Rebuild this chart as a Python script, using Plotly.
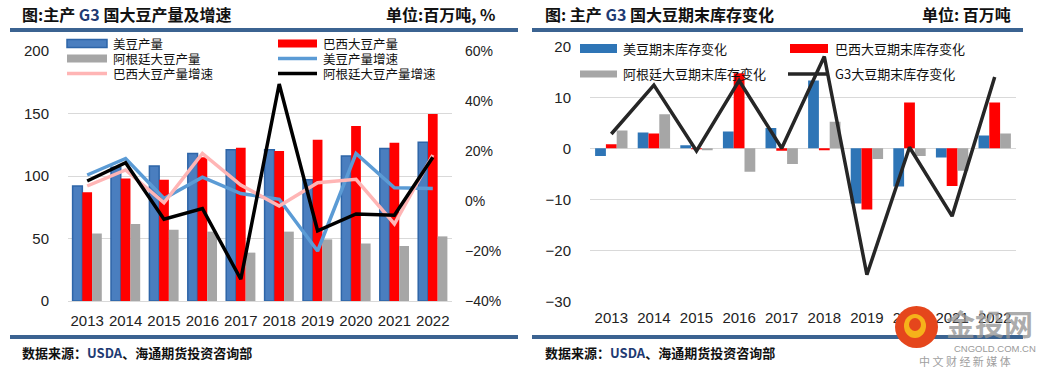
import plotly.graph_objects as go

W, H = 1051, 379

years = ["2013", "2014", "2015", "2016", "2017", "2018", "2019", "2020", "2021", "2022"]

# Left chart: production (million tonnes) and growth
us_prod = [92, 107, 108, 118, 121, 121, 97, 116, 122, 127]
br_prod = [87, 98, 97, 115, 122.6, 120, 129, 140, 126.7, 149.6]
ar_prod = [54, 61.6, 57, 55.5, 38.7, 55.5, 49.3, 46, 44, 51.7]
us_growth = [0.104, 0.17, 0.01, 0.095, 0.03, 0.007, -0.20, 0.19, 0.053, 0.05]
br_growth = [0.06, 0.124, -0.007, 0.19, 0.064, -0.02, 0.073, 0.087, -0.092, 0.184]
ar_growth = [0.08, 0.153, -0.073, -0.03, -0.313, 0.468, -0.119, -0.052, -0.057, 0.175]

# Right chart: ending stocks change (million tonnes)
us_stock = [-1.5, 3.1, 0.6, 3.3, 4.0, 13.3, -10.8, -7.5, -1.8, 2.5]
br_stock = [0.8, 2.9, -0.1, 14.7, -0.5, -0.2, -12.0, 9.0, -7.4, 9.0]
ar_stock = [3.5, 6.7, -0.3, -4.6, -3.1, 5.2, -2.1, -1.5, -4.4, 2.9]
g3_stock = [2.8, 12.4, -0.5, 13.3, 0.0, 18.0, -24.8, 0.2, -13.3, 14.0]

left_names = ["美豆产量", "巴西大豆产量", "阿根廷大豆产量", "美豆产量增速", "巴西大豆产量增速", "阿根廷大豆产量增速"]
right_names = ["美豆期末库存变化", "巴西大豆期末库存变化", "阿根廷大豆期末库存变化", "G3大豆期末库存变化"]

BLUE_BAR = "#4a7ebf"
BLUE_EDGE = "#2e65a8"
BLUE2 = "#2e75b6"
RED = "#ff0000"
GREY = "#a6a6a6"
LBLUE = "#5b9bd5"
PINK = "#ffb5b5"
BLACK = "#000000"
DARK = "#262626"
BAND = "#3b6391"
NAVY = "#1f3b73"
GRID = "#d9d9d9"

def px(x):
    return x / W

def py(y):
    return 1 - y / H

fig = go.Figure()

# ---- left chart ----
fig.add_trace(go.Bar(x=years, y=us_prod, name=left_names[0], marker=dict(color=BLUE_BAR, line=dict(color=BLUE_EDGE, width=1.5)), xaxis="x", yaxis="y"))
fig.add_trace(go.Bar(x=years, y=br_prod, name=left_names[1], marker=dict(color=RED, line=dict(width=0)), xaxis="x", yaxis="y"))
fig.add_trace(go.Bar(x=years, y=ar_prod, name=left_names[2], marker=dict(color=GREY, line=dict(width=0)), xaxis="x", yaxis="y"))
fig.add_trace(go.Scatter(x=years, y=us_growth, name=left_names[3], mode="lines", line=dict(color=LBLUE, width=3.5), xaxis="x", yaxis="y2"))
fig.add_trace(go.Scatter(x=years, y=br_growth, name=left_names[4], mode="lines", line=dict(color=PINK, width=3.5), xaxis="x", yaxis="y2"))
fig.add_trace(go.Scatter(x=years, y=ar_growth, name=left_names[5], mode="lines", line=dict(color=BLACK, width=3.5), xaxis="x", yaxis="y2"))

# ---- right chart ----
fig.add_trace(go.Bar(x=years, y=us_stock, name=right_names[0], marker=dict(color=BLUE2, line=dict(width=0)), xaxis="x2", yaxis="y3"))
fig.add_trace(go.Bar(x=years, y=br_stock, name=right_names[1], marker=dict(color=RED, line=dict(width=0)), xaxis="x2", yaxis="y3"))
fig.add_trace(go.Bar(x=years, y=ar_stock, name=right_names[2], marker=dict(color=GREY, line=dict(width=0)), xaxis="x2", yaxis="y3"))
fig.add_trace(go.Scatter(x=years, y=g3_stock, name=right_names[3], mode="lines", line=dict(color=DARK, width=3.5), xaxis="x2", yaxis="y3"))

tickfont = dict(family="Liberation Sans, Arial, sans-serif", size=15, color="#222222")
pctfont = dict(family="Liberation Sans Narrow, Arial Narrow, Liberation Sans, sans-serif", size=14, color="#222222")

fig.update_layout(
    width=W, height=H,
    margin=dict(l=0, r=0, t=0, b=0, autoexpand=False),
    paper_bgcolor="white", plot_bgcolor="white",
    showlegend=False,
    barmode="group", bargap=0.24, bargroupgap=0,
    xaxis=dict(domain=[px(68), px(452)], anchor="y", type="category", tickfont=tickfont, automargin=False,
               showline=True, linecolor=GRID, showgrid=False, ticks="", ticklabelstandoff=6),
    yaxis=dict(domain=[py(301), py(51)], anchor="x", range=[0, 200], dtick=50, tickfont=tickfont, automargin=False,
               showgrid=True, gridcolor=GRID, zeroline=False, ticklabelstandoff=18),
    yaxis2=dict(overlaying="y", side="right", anchor="x", range=[-0.4, 0.6], dtick=0.2, tickformat=".0%",
                automargin=False, tickfont=pctfont, showgrid=False, zeroline=False, ticklabelstandoff=12),
    xaxis2=dict(domain=[px(590), px(1016)], anchor="y3", type="category", tickfont=tickfont, automargin=False,
                showline=False, showgrid=False, ticks="", ticklabelstandoff=6),
    yaxis3=dict(domain=[py(301.3), py(46.3)], anchor="x2", range=[-30, 20], dtick=10, tickfont=tickfont,
                automargin=False, showgrid=True, gridcolor=GRID, zeroline=True, zerolinecolor=GRID,
                zerolinewidth=1, ticklabelstandoff=18),
)

shapes = []
annotations = []

def band(x0, x1, y0, y1, color):
    shapes.append(dict(type="rect", xref="paper", yref="paper", x0=px(x0), x1=px(x1), y0=py(y1), y1=py(y0),
                       fillcolor=color, line=dict(width=0), layer="above"))

def leg_rect(x0, x1, yc, h, color, edge=None):
    shapes.append(dict(type="rect", xref="paper", yref="paper", x0=px(x0), x1=px(x1), y0=py(yc + h / 2), y1=py(yc - h / 2),
                       fillcolor=color, line=dict(color=edge or color, width=1.5 if edge else 0), layer="above"))

def leg_line(x0, x1, yc, color, width=3.5):
    shapes.append(dict(type="line", xref="paper", yref="paper", x0=px(x0), x1=px(x1), y0=py(yc), y1=py(yc),
                       line=dict(color=color, width=width), layer="above"))

def text(x, y, s, size=13, anchor="left", bold=False, color="#111111", family="Noto Sans CJK SC"):
    annotations.append(dict(xref="paper", yref="paper", x=px(x), y=py(y), text=("<b>%s</b>" % s) if bold else s,
                            showarrow=False, xanchor=anchor, yanchor="middle",
                            font=dict(family=family, size=size, color=color)))

# header / footer bands
band(10, 518, 28, 32, BAND)
band(532, 1023, 28, 32, BAND)
band(10, 518, 335, 339, BAND)
band(532, 1023, 335, 339, BAND)

# titles
text(20, 14, "图:主产 <span style='color:%s'>G3</span> 国大豆产量及增速" % NAVY, size=16, bold=True)
text(497, 14, "单位:百万吨, %", size=16, bold=True, anchor="right")
text(543, 14, "图: 主产 <span style='color:%s'>G3</span> 国大豆期末库存变化" % NAVY, size=16, bold=True)
text(1013, 14, "单位: 百万吨", size=16, bold=True, anchor="right")

# footers
text(20, 352, "数据来源：<span style='color:%s'>USDA</span>、海通期货投资咨询部" % NAVY, size=13, bold=True)
text(543, 352, "数据来源：<span style='color:%s'>USDA</span>、海通期货投资咨询部" % NAVY, size=13, bold=True)

# left legend
LF = 12.5
leg_rect(67, 107, 43.5, 8, BLUE_BAR, BLUE_EDGE)
text(111, 43.5, left_names[0], size=LF)
leg_rect(278, 317, 43.5, 8, RED)
text(321, 43.5, left_names[1], size=LF)
leg_rect(67, 107, 58.5, 8, GREY)
text(111, 58.5, left_names[2], size=LF)
leg_line(278, 317, 58.5, LBLUE)
text(321, 58.5, left_names[3], size=LF)
leg_line(67, 107, 73.5, PINK)
text(111, 73.5, left_names[4], size=LF)
leg_line(278, 317, 73.5, BLACK)
text(321, 73.5, left_names[5], size=LF)

# right legend
RF = 13
leg_rect(580, 617, 48.5, 9, BLUE2)
text(621, 48.5, right_names[0], size=RF)
leg_rect(790, 828, 48.5, 9, RED)
text(833, 48.5, right_names[1], size=RF)
leg_rect(580, 617, 74, 7, GREY)
text(621, 74, right_names[2], size=RF)
leg_line(788, 828, 74, DARK)
text(833, 74, right_names[3], size=RF)

# watermark
shapes.append(dict(type="circle", xref="paper", yref="paper", x0=px(895), x1=px(938), y0=py(348), y1=py(306),
                   fillcolor="#e5461c", line=dict(width=0), layer="above"))
shapes.append(dict(type="circle", xref="paper", yref="paper", x0=px(904), x1=px(926), y0=py(338), y1=py(314),
                   fillcolor="#f6b21a", line=dict(width=0), layer="above"))
shapes.append(dict(type="circle", xref="paper", yref="paper", x0=px(909), x1=px(921), y0=py(331), y1=py(318),
                   fillcolor="#e5461c", line=dict(width=0), layer="above"))
text(989, 323, "金投网", size=29, bold=True, anchor="center", color="rgba(150,150,150,0.8)")
text(995, 348, "CNGOLD.COM.CN", size=9.5, anchor="center", color="#9a9a9a", family="Liberation Sans")
text(965, 361, "中 文 财 经 新 媒 体", size=11, anchor="center", color="#a0a0a0")

fig.update_layout(shapes=shapes, annotations=annotations)
fig.write_html("out.html", config={"displayModeBar": False},
               post_script="document.body.style.margin='0px';document.body.style.padding='0px';")
